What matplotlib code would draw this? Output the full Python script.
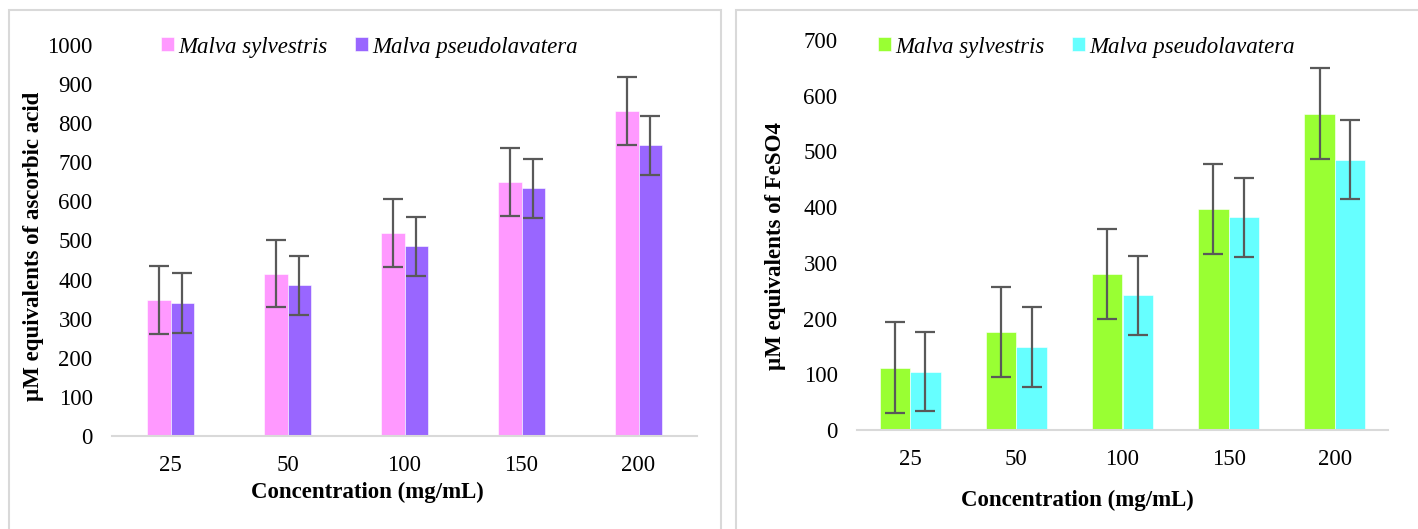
import numpy as np
import matplotlib
matplotlib.use("Agg")
import matplotlib.pyplot as plt
from matplotlib.patches import Rectangle

plt.rcParams["font.family"] = ["Liberation Serif", "DejaVu Serif"]

# data
concentrations = ["25", "50", "100", "150", "200"]
series_names = ["Malva sylvestris", "Malva pseudolavatera"]

# left panel: ascorbic acid equivalents
aa_sylvestris = [349, 415, 520, 649, 830]
aa_pseudo = [340, 385, 485, 633, 743]
aa_sylvestris_err = [87, 86, 87, 87, 87]
aa_pseudo_err = [76, 76, 76, 76, 76]

# right panel: FeSO4 equivalents
fe_sylvestris = [112, 176, 280, 397, 568]
fe_pseudo = [105, 149, 242, 382, 485]
fe_sylvestris_err = [81, 81, 81, 81, 81]
fe_pseudo_err = [71, 71, 71, 71, 71]

W, H = 1418, 529
FS = 16.5
fig = plt.figure(figsize=(W / 100, H / 100), dpi=100)


def px_box(x0, y_top, x1, y_bot):
    return [x0 / W, 1 - y_bot / H, (x1 - x0) / W, (y_bot - y_top) / H]


def draw_panel(ax, vals1, vals2, err1, err2, colors, width, ymax, ylabel,
               ylab_xy, xlab_xy, leg_xy):
    x = np.arange(len(concentrations))
    eb = dict(ecolor="#595959", elinewidth=1.6, capsize=7.5, capthick=1.6)
    ax.bar(x - width / 2, vals1, width, color=colors[0], yerr=err1,
           error_kw=eb, label=series_names[0], edgecolor="white", linewidth=0.4)
    ax.bar(x + width / 2, vals2, width, color=colors[1], yerr=err2,
           error_kw=eb, label=series_names[1], edgecolor="white", linewidth=0.4)
    ax.set_xlim(-0.5, len(concentrations) - 0.5)
    ax.set_ylim(0, ymax)
    ax.set_yticks(np.arange(0, ymax + 1, 100))
    ax.set_xticks(x)
    ax.set_xticklabels(concentrations)
    ax.tick_params(length=0, labelsize=FS, colors="black")
    ax.tick_params(axis="y", pad=14)
    ax.tick_params(axis="x", pad=14)
    for s in ["top", "right", "left"]:
        ax.spines[s].set_visible(False)
    ax.spines["bottom"].set_color("#D9D9D9")
    ax.spines["bottom"].set_linewidth(1.5)
    ax.set_ylabel(ylabel, fontsize=FS, fontweight="bold")
    ax.yaxis.set_label_coords(ylab_xy[0] / W, 1 - ylab_xy[1] / H,
                              transform=fig.transFigure)
    ax.set_xlabel("Concentration (mg/mL)", fontsize=FS, fontweight="bold")
    ax.xaxis.set_label_coords(xlab_xy[0] / W, 1 - xlab_xy[1] / H,
                              transform=fig.transFigure)
    ax.legend(loc="center left", bbox_to_anchor=(leg_xy[0] / W, 1 - leg_xy[1] / H),
              bbox_transform=fig.transFigure, ncol=2, frameon=False,
              prop={"style": "italic", "size": FS}, handlelength=0.55,
              handleheight=0.55, handletextpad=0.2, columnspacing=1.2,
              borderpad=0, borderaxespad=0)


ax1 = fig.add_axes(px_box(112, 45, 697, 436))
draw_panel(ax1, aa_sylvestris, aa_pseudo, aa_sylvestris_err, aa_pseudo_err,
           ["#FF99FF", "#9966FF"], 0.205, 1000,
           "µM equivalents of ascorbic acid", (44, 246), (367, 482), (161, 47))

ax2 = fig.add_axes(px_box(857, 40, 1388, 430))
draw_panel(ax2, fe_sylvestris, fe_pseudo, fe_sylvestris_err, fe_pseudo_err,
           ["#99FF33", "#66FFFF"], 0.288, 700,
           "µM equivalents of FeSO4", (786, 246), (1077, 490), (878, 47))

# light grey panel frames
for x0, x1 in [(9, 721), (736, 1440)]:
    fig.patches.append(Rectangle((x0 / W, -0.1), (x1 - x0) / W, 1.1 - 10 / H,
                                 transform=fig.transFigure, fill=False,
                                 edgecolor="#D9D9D9", linewidth=1.5))

fig.savefig("out.png", dpi=100)
